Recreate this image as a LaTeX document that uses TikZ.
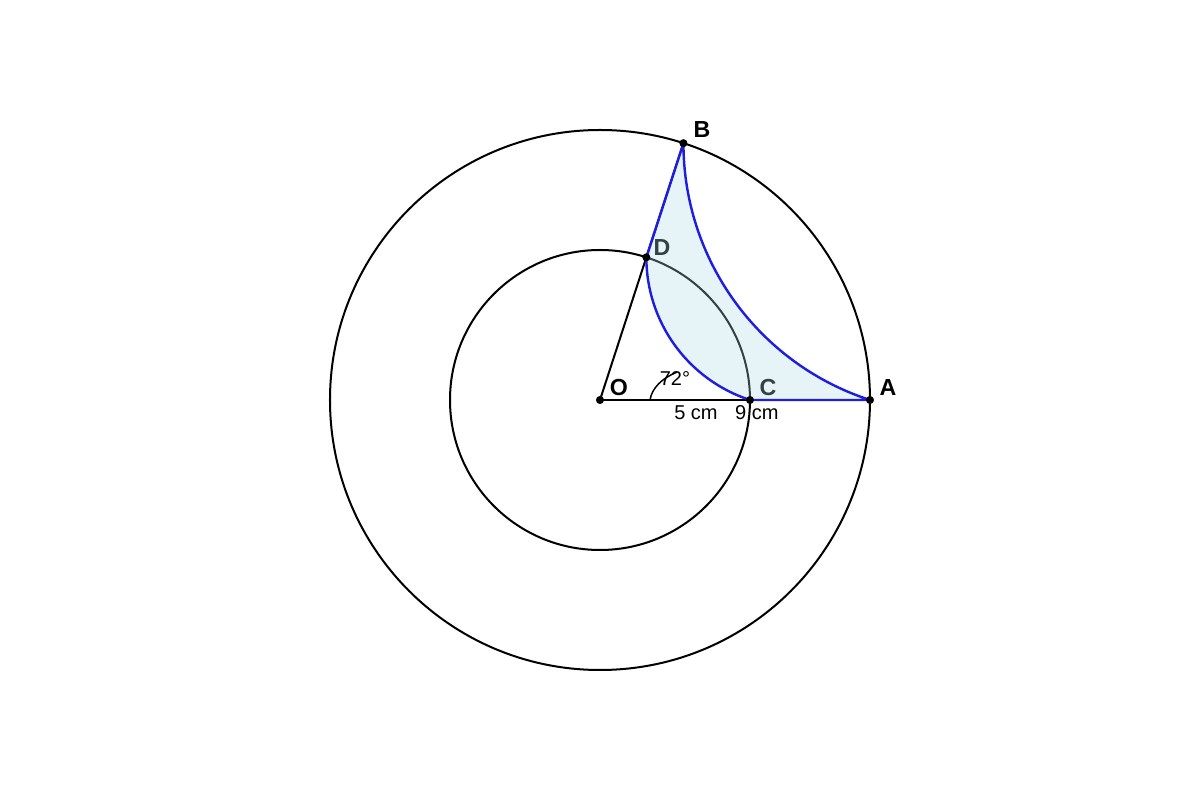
\documentclass[tikz,border=0pt]{standalone}
\usepackage{fontspec}
\setmainfont{Liberation Sans}
\begin{document}
\begin{tikzpicture}[
  line/.style={line width=1.9pt, black},
  bluepath/.style={line width=2.3pt, draw={rgb,255:red,30;green,30;blue,225}, line join=round},
  region/.style={fill={rgb,255:red,173;green,216;blue,230}, fill opacity=0.3},
  dot/.style={circle, fill=black, inner sep=0pt, minimum size=0.27cm},
  ptlabel/.style={font=\fontsize{22}{26}\selectfont\bfseries, inner sep=0pt},
  dimlabel/.style={font=\fontsize{19}{22}\selectfont, inner sep=0pt}
]
\useasboundingbox (-20,-13.3333) rectangle (20,13.3333);
\coordinate (O) at (0,0);
\coordinate (A) at (9,0);
\coordinate (C) at (5,0);
\coordinate (B) at (72:9);
\coordinate (D) at (72:5);
% circles
\draw[line] (O) circle (9);
\draw[line] (O) circle (5);
% segments
\draw[line] (O) -- (B);
\draw[line] (O) -- (A);
% angle mark
\coordinate (m1) at (1.667,0);
\coordinate (m2) at (2.57,0.93);
\draw[line width=1.4pt] (m1) .. controls (1.73,0.4) and (2.07,0.73) .. (m2);
% labels
\node[ptlabel] (lB) at (3.4,9.0) {B};
\node[ptlabel] (lA) at (9.6,0.43) {A};
\node[ptlabel] (lO) at (0.63,0.43) {O};
\node[ptlabel] (lD) at (2.07,5.07) {D};
\node[ptlabel] (lC) at (5.6,0.43) {C};
\node[dimlabel] (ang) at (2.5,0.73) {72°};
\node[dimlabel] (d5) at (3.2,-0.43) {5 cm};
\node[dimlabel] (d9) at (5.23,-0.43) {9 cm};
% shaded region
\fill[region] (D) -- (B) arc[start angle=180, end angle=252, radius=9] -- (C) arc[start angle=252, end angle=180, radius=5] -- cycle;
\draw[bluepath] (D) -- (B) arc[start angle=180, end angle=252, radius=9] -- (C) arc[start angle=252, end angle=180, radius=5] -- cycle;
% dots
\node[dot] (pO) at (O) {};
\node[dot] (pA) at (A) {};
\node[dot] (pB) at (B) {};
\node[dot] (pC) at (C) {};
\node[dot] (pD) at (D) {};
\end{tikzpicture}
\end{document}
